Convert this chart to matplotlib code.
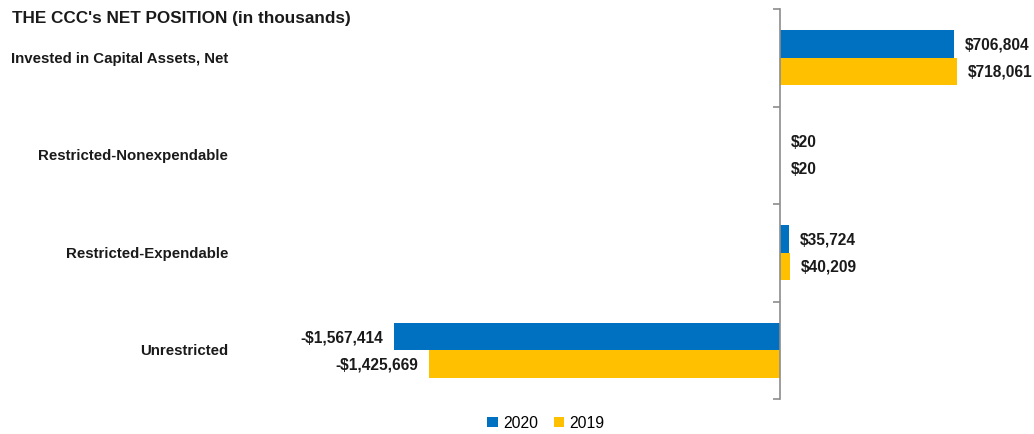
import matplotlib.pyplot as plt
import matplotlib.transforms as mtransforms
import numpy as np

categories = ['Invested in Capital Assets, Net', 'Restricted-Nonexpendable',
              'Restricted-Expendable', 'Unrestricted']
values_2020 = [706804, 20, 35724, -1567414]
values_2019 = [718061, 20, 40209, -1425669]
series_names = ['2020', '2019']
colors = ['#0070C0', '#FFC000']

W, H = 1034, 435
fig = plt.figure(figsize=(W / 100, H / 100), dpi=100)

# axes in pixel terms: left 240, right 1000, top 10, bottom 400
left_px, right_px, top_px, bot_px = 240, 1000, 10, 400
ax = fig.add_axes([left_px / W, (H - bot_px) / H,
                   (right_px - left_px) / W, (bot_px - top_px) / H])

scale = 386 / 1567414  # px per unit
zero_px = 780
ax.set_xlim(-(zero_px - left_px) / scale, (right_px - zero_px) / scale)

y = np.arange(len(categories))
h = 0.28
ax.barh(y - h / 2, values_2020, height=h, color=colors[0], label=series_names[0])
ax.barh(y + h / 2, values_2019, height=h, color=colors[1], label=series_names[1])
ax.set_ylim(len(categories) - 0.5, -0.5)

label_font = dict(family=['Liberation Sans', 'DejaVu Sans'],
                  fontsize=11.2, fontweight='bold', color='#1a1a1a')
pad = 11 / scale
for vals, off in [(values_2020, -h / 2), (values_2019, h / 2)]:
    for yi, v in zip(y, vals):
        txt = ('-$' if v < 0 else '$') + f'{abs(v):,}'
        if v < 0:
            ax.text(v - pad, yi + off, txt, ha='right', va='center', **label_font)
        else:
            ax.text(v + pad, yi + off, txt, ha='left', va='center', **label_font)

# category names sit at the far left, right aligned
cat_tr = mtransforms.blended_transform_factory(fig.transFigure, ax.transData)
for yi, c in zip(y, categories):
    ax.text(228 / W, yi, c, ha='right', va='center', transform=cat_tr,
            family=['Liberation Sans', 'DejaVu Sans'], fontsize=10.8,
            fontweight='bold', color='#1a1a1a')

for s in ['top', 'right', 'bottom']:
    ax.spines[s].set_visible(False)
ax.spines['left'].set_position(('data', 0))
ax.spines['left'].set_color('#8c8c8c')
ax.spines['left'].set_linewidth(1.2)
ax.set_yticks(np.arange(-0.5, len(categories), 1))
ax.set_yticklabels([])
ax.tick_params(axis='y', direction='out', length=5, color='#8c8c8c', width=1.2)
ax.set_xticks([])

fig.text(12 / W, 1 - 18 / H, "THE CCC's NET POSITION (in thousands)",
         family=['Liberation Sans', 'DejaVu Sans'], fontsize=12.3, fontweight='bold',
         ha='left', va='center', color='#1a1a1a')

fig.legend(loc='center', bbox_to_anchor=(546 / W, 1 - 424 / H), ncol=2, frameon=False,
           prop={'family': ['Liberation Sans', 'DejaVu Sans'], 'size': 11.3},
           handlelength=0.65, handleheight=0.65, handletextpad=0.35, columnspacing=1.0)

fig.savefig('out.png', dpi=100)
